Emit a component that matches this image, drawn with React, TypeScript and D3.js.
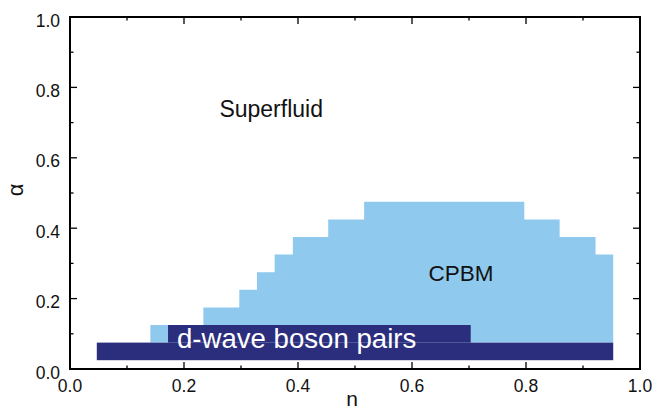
import React from "react";
import * as d3 from "d3";

// CPBM region: step edges in n and the top α value of each step
const cpbmEdges = [0.141, 0.234, 0.297, 0.328, 0.359, 0.391, 0.453, 0.516, 0.797, 0.859, 0.922, 0.953];
const cpbmTop = [0.125, 0.175, 0.225, 0.275, 0.325, 0.375, 0.425, 0.475, 0.425, 0.375, 0.325];
const cpbmBottom = 0.075;

// d-wave boson pairs bars
const dwaveStart = [0.047, 0.172];
const dwaveEnd = [0.953, 0.703];
const dwaveLow = [0.025, 0.075];
const dwaveHigh = [0.075, 0.125];

const majorTicks = [0, 0.2, 0.4, 0.6, 0.8, 1.0];
const minorTicks = [0.1, 0.3, 0.5, 0.7, 0.9];

const labels = [
  { text: "Superfluid", n: 0.353, a: 0.715, size: 23, color: "#111" },
  { text: "CPBM", n: 0.686, a: 0.25, size: 22.5, color: "#111" },
];

const W = 652, H = 412;
const L = 70, R = 640, T = 17, B = 369;
const FONT = "'Liberation Sans', Arial, Helvetica, sans-serif";

export default function App() {
  const x = d3.scaleLinear().domain([0, 1]).range([L, R]);
  const y = d3.scaleLinear().domain([0, 1]).range([B, T]);

  const pts = cpbmEdges.map((e, i) => ({ n: e, a: cpbmTop[Math.min(i, cpbmTop.length - 1)] }));
  const area = d3
    .area<{ n: number; a: number }>()
    .x((d) => x(d.n))
    .y0(y(cpbmBottom))
    .y1((d) => y(d.a))
    .curve(d3.curveStepAfter);

  const lightBlue = "#90C9EE";
  const navy = "#2B2D7D";

  return (
    <svg
      width={W}
      height={H}
      style={{ position: "fixed", left: 0, top: 0, background: "#fff" }}
      fontFamily={FONT}
    >
      <path d={area(pts) || ""} fill={lightBlue} />
      {dwaveStart.map((s, i) => (
        <rect
          key={i}
          x={x(s)}
          y={y(dwaveHigh[i])}
          width={x(dwaveEnd[i]) - x(s)}
          height={y(dwaveLow[i]) - y(dwaveHigh[i])}
          fill={navy}
        />
      ))}
      {labels.map((l) => (
        <text key={l.text} x={x(l.n)} y={y(l.a)} fontSize={l.size} fill={l.color} textAnchor="middle">
          {l.text}
        </text>
      ))}
      <text x={177} y={347.5} fontSize={27.6} fill="#fff">
        d-wave boson pairs
      </text>

      {/* frame */}
      <rect x={L} y={T} width={R - L} height={B - T} fill="none" stroke="#000" strokeWidth={2} />

      {/* ticks */}
      {majorTicks.map((t) => (
        <g key={"M" + t} stroke="#000" strokeWidth={1.3}>
          <line x1={x(t)} x2={x(t)} y1={B} y2={B - 7} />
          <line x1={x(t)} x2={x(t)} y1={T} y2={T + 7} />
          <line x1={L} x2={L + 7} y1={y(t)} y2={y(t)} />
          <line x1={R} x2={R - 7} y1={y(t)} y2={y(t)} />
        </g>
      ))}
      {minorTicks.map((t) => (
        <g key={"m" + t} stroke="#000" strokeWidth={1.3}>
          <line x1={x(t)} x2={x(t)} y1={B} y2={B - 3.5} />
          <line x1={x(t)} x2={x(t)} y1={T} y2={T + 3.5} />
          <line x1={L} x2={L + 3.5} y1={y(t)} y2={y(t)} />
          <line x1={R} x2={R - 3.5} y1={y(t)} y2={y(t)} />
        </g>
      ))}

      {/* tick labels */}
      {majorTicks.map((t) => (
        <text key={"xl" + t} x={x(t)} y={392} fontSize={17.5} textAnchor="middle" fill="#111">
          {t.toFixed(1)}
        </text>
      ))}
      {majorTicks.map((t) => (
        <text key={"yl" + t} x={60} y={y(t) + 9.5} fontSize={17.5} textAnchor="end" fill="#111">
          {t.toFixed(1)}
        </text>
      ))}

      {/* axis titles */}
      <text x={352} y={406} fontSize={21} textAnchor="middle" fill="#111">
        n
      </text>
      <text
        transform={`translate(23,190) rotate(-90)`}
        fontSize={22}
        textAnchor="middle"
        fill="#111"
      >
        α
      </text>
    </svg>
  );
}
